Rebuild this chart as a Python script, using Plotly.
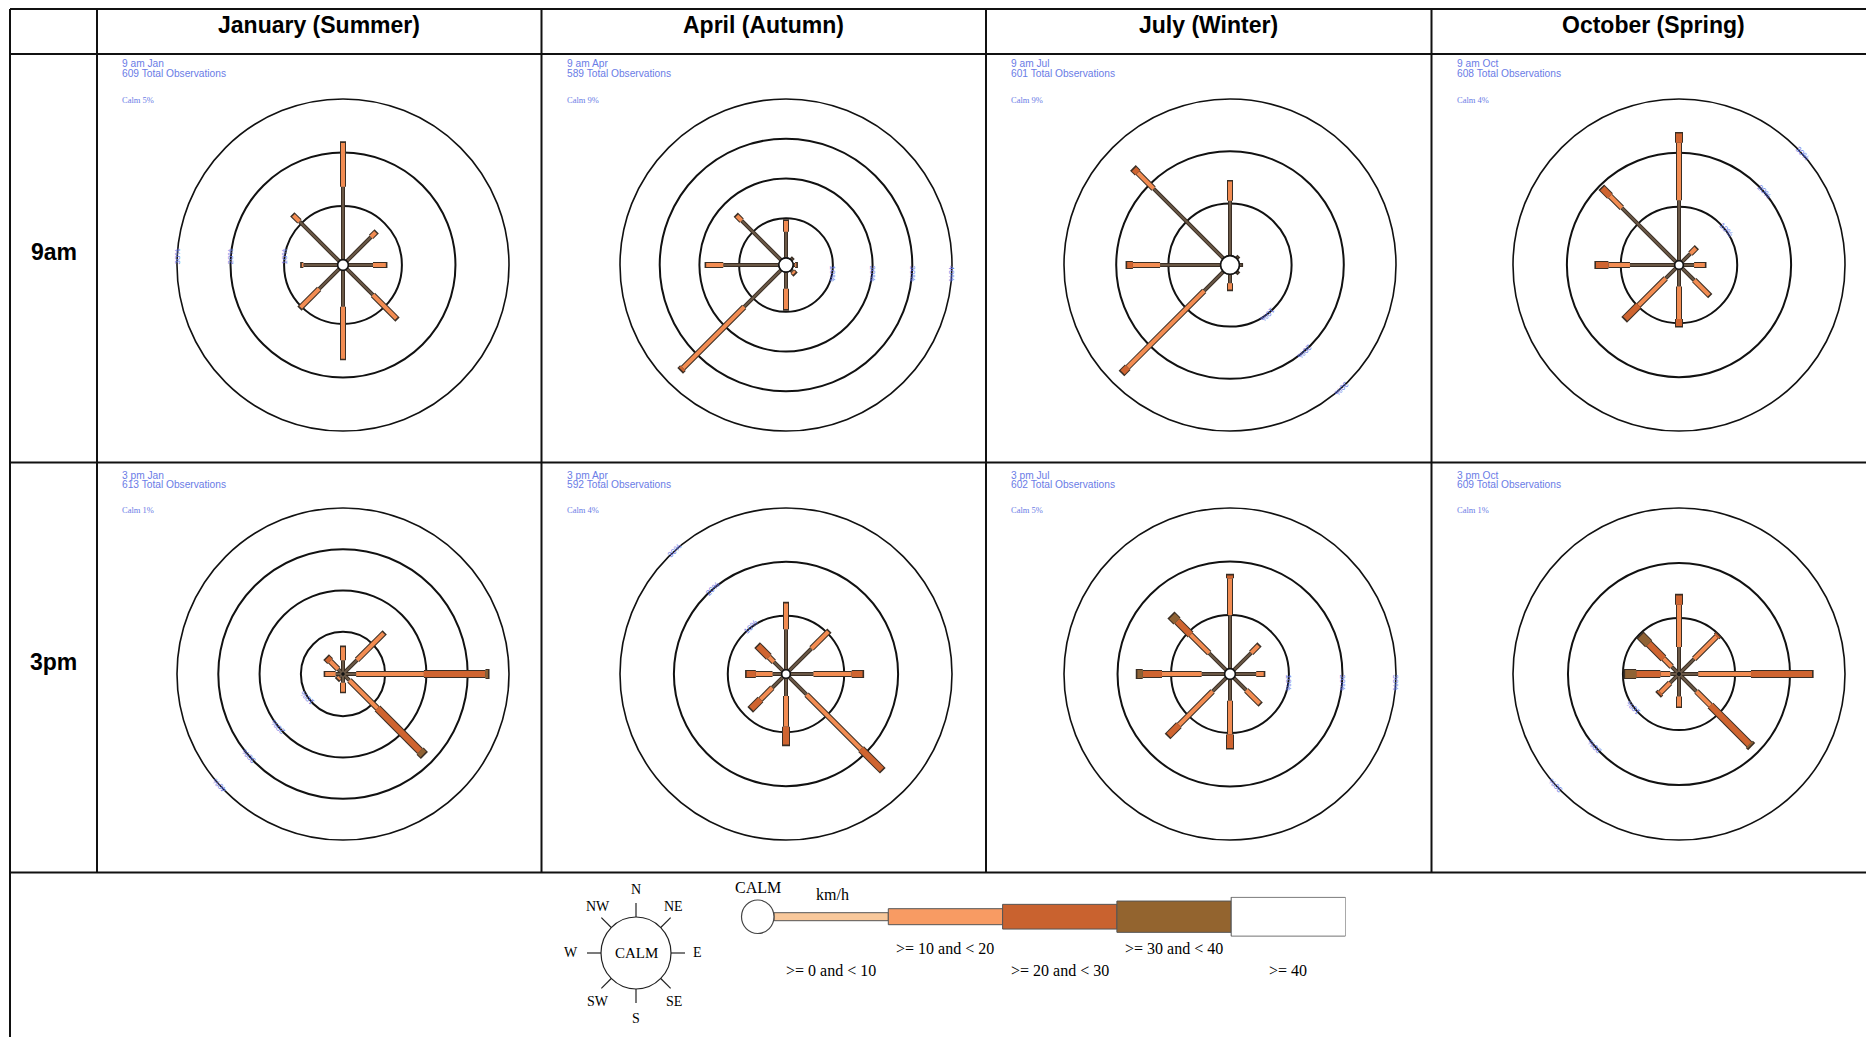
import math
import plotly.graph_objects as go

W, H = 1874, 1045          # browser window
OFF = 8                    # default body margin of the html page
FW, FH = W - OFF, H - 2 * OFF

# ---------------- data ----------------
MONTHS = ["January (Summer)", "April (Autumn)", "July (Winter)", "October (Spring)"]
MONTH_ABBR = ["Jan", "Apr", "Jul", "Oct"]
TIMES = ["9am", "3pm"]
TIME_TEXT = ["9 am", "3 pm"]
DIRECTIONS = ["N", "NE", "E", "SE", "S", "SW", "W", "NW"]
DIR_DEG = [0, 45, 90, 135, 180, 225, 270, 315]
SPEED_CLASSES = [">= 0 and < 10", ">= 10 and < 20", ">= 20 and < 30", ">= 30 and < 40", ">= 40"]
CLASS_EDGES = [0, 10, 20, 30, 40, 50]

OBS_9AM = [609, 589, 601, 608]
OBS_3PM = [613, 592, 602, 609]
CALM_9AM = [5, 9, 9, 4]
CALM_3PM = [1, 4, 5, 1]
RING_MAX_9AM = [30, 40, 30, 30]
RING_MAX_3PM = [40, 30, 30, 30]
LABEL_ANGLE_9AM = [180, 0, -45, 45]
LABEL_ANGLE_3PM = [225, 135, 0, 225]

# percent of observations per direction (rows N..NW) and speed class (columns)
JAN_9AM = [[13.6, 8.2], [6.4, 1.2], [4.6, 2.4], [6.9, 6.2], [6.8, 9.7], [5.3, 4.9], [6.4, 0.3], [10.5, 1.6]]
APR_9AM = [[6.6, 2.7], [0.4], [0.5, 0.3], [0.6, 0.6], [4.2, 5.1], [13.1, 21.8, 0.6], [14.0, 4.3], [14.0, 1.7]]
JUL_9AM = [[10.5, 3.7], [0.3], [0.4], [0.3], [1.7, 1.2], [5.2, 20.7, 1.4], [11.6, 5.2, 1.1], [18.9, 4.3, 1.0]]
OCT_9AM = [[11.2, 10.7, 1.7], [2.2, 1.4], [2.0, 2.0], [3.2, 3.9], [3.2, 6.0, 1.3], [2.7, 7.1, 3.5], [8.3, 4.0, 2.3], [14.2, 3.1, 2.0]]
JAN_3PM = [[3.1, 3.2], [4.6, 9.1], [3.0, 16.4, 14.9, 0.6], [2.0, 9.6, 14.6, 1.1], [1.9, 2.2], [1.0, 0.5], [1.6, 2.5], [1.5, 2.7, 1.0]]
APR_3PM = [[7.5, 4.8], [5.9, 4.4], [4.3, 7.1, 2.0], [4.6, 14.3, 5.4], [3.3, 5.7, 3.3], [2.8, 3.1, 2.4], [1.7, 3.1, 1.7], [2.4, 1.3, 2.8]]
JUL_3PM = [[10.0, 6.9, 0.5], [4.6, 1.9], [3.9, 1.4], [3.3, 3.5], [4.0, 6.3, 2.5], [3.6, 8.9, 2.7], [4.3, 7.4, 3.6, 1.0], [4.5, 4.9, 3.6, 1.3]]
OCT_3PM = [[4.7, 7.7, 1.7], [3.7, 5.8, 0.3], [3.3, 9.6, 11.1], [4.3, 3.6, 10.0, 0.3], [3.9, 1.8], [2.1, 2.5, 0.3], [1.4, 1.8, 4.4, 2.0], [1.7, 2.1, 3.8, 2.0]]

ROSES = [[JAN_9AM, APR_9AM, JUL_9AM, OCT_9AM], [JAN_3PM, APR_3PM, JUL_3PM, OCT_3PM]]
OBS = [OBS_9AM, OBS_3PM]
CALM = [CALM_9AM, CALM_3PM]
RING_MAX = [RING_MAX_9AM, RING_MAX_3PM]
LABEL_ANGLE = [LABEL_ANGLE_9AM, LABEL_ANGLE_3PM]

# ---------------- styles / layout ----------------
ROSE_FILL = ["#6a5846", "#f28c52", "#cf6430", "#8f6234", "#ffffff"]
ROSE_W = [2.0, 4.0, 6.0, 8.0, 10.0]
OUTLINE = "#3a2e24"
LEG_FILL = ["#f8c89b", "#f89b63", "#c9622f", "#93642f", "#ffffff"]
LEG_H = [8, 16, 24.7, 31.3, 39]
BLUE = "#6a7ce6"
SANS = "Liberation Sans, Arial, sans-serif"
SERIF = "Liberation Serif, Times New Roman, serif"

COL_X = [10, 97, 541.5, 986, 1431.5]
ROW_Y = [9, 54, 462.5, 872.5]
CX = [343, 786, 1230, 1679]
CY = [265, 674]
R = 166
TXT_Y = [[64, 73.7, 99.5], [475, 484, 510]]


def px(x):
    return (x - OFF) / FW


def py(y):
    return 1 - (y - OFF) / FH


fig = go.Figure()
layout = dict(width=FW, height=FH, margin=dict(l=0, r=0, t=0, b=0), autosize=False,
              paper_bgcolor="white", plot_bgcolor="white", showlegend=False)
annotations = []
shapes = []


def note(x, y, text, font, xanchor="center", xref="paper"):
    annotations.append(dict(x=x if xref != "paper" else px(x), y=py(y), text=text, xref=xref, yref="paper",
                            xanchor=xanchor, yanchor="middle", showarrow=False, font=font))


idx = 0
for ri in range(2):
    for ci in range(4):
        idx += 1
        sub = "polar" if idx == 1 else f"polar{idx}"
        data = ROSES[ri][ci]
        maxr = RING_MAX[ri][ci]
        h = CALM[ri][ci] / 5.0
        hole = h / (maxr + h)
        per_pct_px = (1 - hole) * R / maxr
        cap = 1.6 / per_pct_px
        for k in range(5):
            r_f, t_f, r_o, t_o = [], [], [], []
            for d, deg in enumerate(DIR_DEG):
                vals = data[d]
                if k >= len(vals) or vals[k] <= 0:
                    continue
                start = sum(vals[:k])
                end = start + vals[k]
                last = (k == len(vals) - 1)
                r_f += [start, end, None]
                t_f += [deg, deg, None]
                r_o += [start, end + (cap if last else 0), None]
                t_o += [deg, deg, None]
            if not r_f:
                continue
            fig.add_trace(go.Scatterpolar(r=r_o, theta=t_o, mode="lines", subplot=sub,
                                          line=dict(color=OUTLINE, width=ROSE_W[k] + 2),
                                          hoverinfo="skip"))
            fig.add_trace(go.Scatterpolar(r=r_f, theta=t_f, mode="lines", subplot=sub,
                                          line=dict(color=ROSE_FILL[k], width=ROSE_W[k]),
                                          hoverinfo="skip", name=SPEED_CLASSES[k]))
        # calm circle at the hole edge
        th = list(range(0, 361, 5))
        fig.add_trace(go.Scatterpolar(r=[0] * len(th), theta=th, mode="lines", subplot=sub,
                                      line=dict(color="#333333", width=1.3), hoverinfo="skip"))
        ticks = list(range(10, maxr + 1, 10))
        layout[sub] = dict(
            domain=dict(x=[px(CX[ci] - R), px(CX[ci] + R)], y=[py(CY[ri] + R), py(CY[ri] - R)]),
            hole=hole,
            bgcolor="rgba(0,0,0,0)",
            radialaxis=dict(range=[0, maxr], tickvals=ticks, ticktext=[f"{t}%" for t in ticks],
                            angle=LABEL_ANGLE[ri][ci], tickangle=90, showline=False, ticks="",
                            gridcolor="#111111", gridwidth=1.6,
                            tickfont=dict(family=SANS, size=8, color=BLUE)),
            angularaxis=dict(rotation=90, direction="clockwise", showticklabels=False, ticks="",
                             showgrid=False, showline=True, linecolor="#111111", linewidth=1.6),
        )
        tx = COL_X[ci + 1] + 23
        f_s = dict(family=SANS, size=10.2, color=BLUE)
        note(tx, TXT_Y[ri][0], f"{TIME_TEXT[ri]} {MONTH_ABBR[ci]}", f_s, "left")
        note(tx, TXT_Y[ri][1], f"{OBS[ri][ci]} Total Observations", f_s, "left")
        note(tx, TXT_Y[ri][2], f"Calm {CALM[ri][ci]}%", dict(family=SERIF, size=8.5, color=BLUE), "left")

# headers and row labels
COL_RIGHT = COL_X[1:] + [W + 2]
for ci, m in enumerate(MONTHS):
    note((COL_X[ci + 1] + COL_RIGHT[ci + 1]) / 2, 25, f"<b>{m}</b>", dict(family=SANS, size=23, color="black"))
for ri, t in enumerate(TIMES):
    note((COL_X[0] + COL_X[1]) / 2, [252, 662][ri], f"<b>{t}</b>", dict(family=SANS, size=23, color="black"))

# table lines
LINE = dict(color="#111111", width=2)
for y in ROW_Y:
    shapes.append(dict(type="line", xref="paper", yref="paper", x0=px(COL_X[0]), x1=1.01,
                       y0=py(y), y1=py(y), line=LINE))
shapes.append(dict(type="line", xref="paper", yref="paper", x0=px(COL_X[0]), x1=px(COL_X[0]),
                   y0=py(ROW_Y[0]), y1=-0.02, line=LINE))
for x in COL_X[1:]:
    shapes.append(dict(type="line", xref="paper", yref="paper", x0=px(x), x1=px(x),
                       y0=py(ROW_Y[0]), y1=py(ROW_Y[3]), line=LINE))

# ---------------- legend: compass ----------------
CC = (636, 953)
CR = (35, 36)
shapes.append(dict(type="circle", xref="paper", yref="paper", x0=px(CC[0] - CR[0]), x1=px(CC[0] + CR[0]),
                   y0=py(CC[1] + CR[1]), y1=py(CC[1] - CR[1]), line=dict(color="#222222", width=1.2)))
for deg in DIR_DEG:
    a = math.radians(deg)
    sx, sy = math.sin(a), -math.cos(a)
    shapes.append(dict(type="line", xref="paper", yref="paper",
                       x0=px(CC[0] + CR[0] * sx), x1=px(CC[0] + (CR[0] + 14) * sx),
                       y0=py(CC[1] + CR[1] * sy), y1=py(CC[1] + (CR[1] + 14) * sy),
                       line=dict(color="#222222", width=1.2)))
COMPASS_LABEL_POS = {"N": (636, 889), "NE": (673, 906), "E": (697, 952), "SE": (674, 1001.5),
                     "S": (636, 1018), "SW": (598, 1001.5), "W": (571, 952), "NW": (598, 906)}
for d in DIRECTIONS:
    x, y = COMPASS_LABEL_POS[d]
    note(x, y, d, dict(family=SERIF, size=14, color="black"))
note(CC[0], CC[1], "CALM", dict(family=SERIF, size=15, color="black"))

# ---------------- legend: speed bar ----------------
fig.add_trace(go.Bar(orientation="h", y=[0] * 5, base=CLASS_EDGES[:-1],
                     x=[CLASS_EDGES[i + 1] - CLASS_EDGES[i] for i in range(5)],
                     width=[hh / 40 for hh in LEG_H],
                     marker=dict(color=LEG_FILL, line=dict(color="#555555", width=1)),
                     xaxis="x", yaxis="y", hoverinfo="skip"))
layout["xaxis"] = dict(domain=[px(774), px(1345.5)], range=[0, 50], visible=False, fixedrange=True)
layout["yaxis"] = dict(domain=[py(936.7), py(896.7)], range=[-0.5, 0.5], visible=False, fixedrange=True)
for i, lab in enumerate(SPEED_CLASSES):
    note((CLASS_EDGES[i] + CLASS_EDGES[i + 1]) / 2, 948 if i % 2 else 970.5, lab,
         dict(family=SERIF, size=16, color="black"), xref="x")
shapes.append(dict(type="circle", xref="paper", yref="paper", x0=px(741.5), x1=px(774),
                   y0=py(933.5), y1=py(900), fillcolor="white", line=dict(color="#444444", width=1.2)))
note(757.7, 887, "CALM", dict(family=SERIF, size=16, color="black"))
note(832, 894, "km/h", dict(family=SERIF, size=16, color="black"))

layout["annotations"] = annotations
layout["shapes"] = shapes
fig.update_layout(**layout)
fig.write_html("out.html")
